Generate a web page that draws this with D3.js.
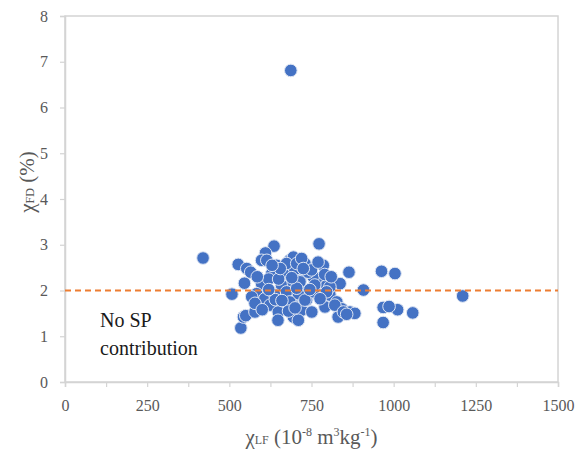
<!DOCTYPE html>
<html>
<head>
<meta charset="utf-8">
<script src="https://cdn.jsdelivr.net/npm/d3@7"></script>
<style>
  body { margin: 0; background: #fff; }
  #chart { width: 577px; height: 455px; }
  svg text { font-family: "Liberation Serif", "Times New Roman", Tinos, "DejaVu Serif", "Noto Serif", serif !important; }
</style>
</head>
<body>
<div id="chart"></div>
<script>
// Datos
const chiLF = [687, 420, 508, 527, 535, 543, 1210, 1058, 1012, 1004, 963, 968, 986, 968, 908, 864, 773,
  636, 610, 598, 553, 565, 614, 644, 684, 695, 664, 629, 598, 546, 659, 695, 583, 608, 639, 674, 705,
  583, 624, 664, 694, 550, 578, 649, 648, 695, 730, 786, 715, 766, 796, 837, 730, 766, 806, 735, 791,
  827, 842, 720, 751, 831, 867, 710, 695, 674, 705, 755, 715, 806, 674, 710, 755, 796, 684, 730, 776,
  821, 847, 882, 857, 568, 578, 620, 740, 650, 705, 760, 585, 720, 750, 680, 640, 600, 790,
  620, 655, 690, 725, 745, 700, 660, 630, 770, 810];
const chiFD = [6.81, 2.71, 1.92, 2.57, 1.18, 1.42, 1.88, 1.51, 1.58, 2.37, 2.42, 1.63, 1.65, 1.30, 2.01, 2.40, 3.02,
  2.97, 2.82, 2.66, 2.48, 2.40, 2.66, 2.55, 2.66, 2.40, 2.37, 2.37, 2.15, 2.16, 2.11, 2.15, 1.93, 1.82, 1.90, 1.90, 1.90,
  1.64, 1.68, 1.68, 1.68, 1.45, 1.53, 1.53, 1.35, 1.42, 2.59, 2.55, 2.22, 2.26, 2.11, 2.15, 2.00, 1.93, 1.90, 1.79, 1.64,
  1.75, 1.60, 1.57, 1.53, 1.42, 1.53, 1.35, 2.73, 2.59, 2.59, 2.30, 2.19, 2.08, 1.97, 1.93, 1.97, 1.97, 1.75, 1.79, 1.82,
  1.68, 1.53, 1.50, 1.48, 1.86, 1.72, 2.25, 2.40, 2.25, 2.05, 2.12, 2.30, 2.70, 2.45, 1.55, 1.80, 1.58, 2.35,
  2.02, 2.48, 2.28, 2.48, 2.02, 1.62, 1.78, 2.55, 2.62, 2.30];
const xTicks = [0, 250, 500, 750, 1000, 1250, 1500];
const xMinorTicks = [125, 375, 625, 875, 1125, 1375];
const yTicks = [0, 1, 2, 3, 4, 5, 6, 7, 8];
const spThreshold = 2;
const noteLines = ['No SP', 'contribution'];

const data = chiLF.map(function(d, i) { return { x: d, y: chiFD[i] }; });

const SERIF = '"Liberation Serif", "Times New Roman", Tinos, "DejaVu Serif", "Noto Serif", serif';

let margin = {top: 16, right: 19, bottom: 73, left: 65},
    width = 577 - margin.left - margin.right,
    height = 455 - margin.top - margin.bottom;

let svg = d3.select('#chart')
  .append('svg')
    .attr('width', 577)
    .attr('height', 455)
  .append('g')
    .attr('transform', 'translate(' + margin.left + ',' + margin.top + ')');

let x = d3.scaleLinear().domain([0, 1500]).range([0, width]);
let y = d3.scaleLinear().domain([0, 8]).range([height, 0]);

const AXIS_COLOR = '#d4d4d4', LABEL_COLOR = '#595959';

// Marco
svg.append('rect')
  .attr('x', 0).attr('y', 0)
  .attr('width', width).attr('height', height)
  .attr('fill', 'none')
  .attr('stroke', AXIS_COLOR)
  .attr('stroke-width', 1.5);

// Eje X
let xAxis = svg.append('g')
  .attr('transform', 'translate(0,' + height + ')')
  .attr('font-family', SERIF)
  .call(d3.axisBottom(x).tickValues(xTicks.concat(xMinorTicks)).tickSize(5).tickFormat(function(d) {
    return xTicks.indexOf(d) >= 0 ? d : '';
  }));
xAxis.attr('font-family', SERIF);
xAxis.select('.domain').attr('stroke', AXIS_COLOR).attr('stroke-width', 1.5);
xAxis.selectAll('.tick line').attr('stroke', AXIS_COLOR).attr('stroke-width', 1.2);
xAxis.selectAll('.tick text')
  .attr('fill', LABEL_COLOR).attr('font-size', 16).attr('dy', '1.3em');

// Eje Y
let yAxis = svg.append('g')
  .call(d3.axisLeft(y).tickValues(yTicks).tickSize(5));
yAxis.attr('font-family', SERIF);
yAxis.select('.domain').attr('stroke', AXIS_COLOR).attr('stroke-width', 1.5);
yAxis.selectAll('.tick line').attr('stroke', AXIS_COLOR).attr('stroke-width', 1.2);
yAxis.selectAll('.tick text')
  .attr('fill', LABEL_COLOR).attr('font-size', 16).attr('x', -17);

// Puntos
svg.selectAll('circle.pt')
  .data(data)
  .enter()
  .append('circle')
  .attr('class', 'pt')
  .attr('cx', function(d) { return x(d.x); })
  .attr('cy', function(d) { return y(d.y); })
  .attr('r', 6.3)
  .attr('fill', '#4472C4')
  .attr('stroke', '#dfe6f3')
  .attr('stroke-width', 1);

// Linea umbral SP
svg.append('line')
  .attr('x1', x(0)).attr('x2', x(1500))
  .attr('y1', y(spThreshold)).attr('y2', y(spThreshold))
  .attr('stroke', '#ED7D31')
  .attr('stroke-width', 2)
  .attr('stroke-dasharray', '6,4');

// Nota
svg.append('g').selectAll('text')
  .data(noteLines)
  .enter()
  .append('text')
  .attr('x', 35)
  .attr('y', function(d, i) { return 311 + i * 28; })
  .attr('font-size', 20)
  .attr('font-family', SERIF)
  .attr('fill', '#1a1a1a')
  .text(function(d) { return d; });

// Titulo eje X
let xt = svg.append('text')
  .attr('x', width / 2)
  .attr('y', height + 62)
  .attr('text-anchor', 'middle')
  .attr('font-size', 21)
  .attr('font-family', SERIF)
  .attr('fill', LABEL_COLOR);
xt.append('tspan').text('χ');
xt.append('tspan').attr('font-size', 12).text('LF');
xt.append('tspan').text(' (10');
xt.append('tspan').attr('font-size', 12).attr('dy', -8).text('-8');
xt.append('tspan').attr('dy', 8).text(' m');
xt.append('tspan').attr('font-size', 12).attr('dy', -8).text('3');
xt.append('tspan').attr('dy', 8).text('kg');
xt.append('tspan').attr('font-size', 12).attr('dy', -8).text('-1');
xt.append('tspan').attr('dy', 8).text(')');

// Titulo eje Y
let yt = svg.append('text')
  .attr('transform', 'translate(' + (-31) + ',' + (height / 2 - 17) + ') rotate(-90)')
  .attr('text-anchor', 'middle')
  .attr('font-size', 21)
  .attr('font-family', SERIF)
  .attr('fill', LABEL_COLOR);
yt.append('tspan').text('χ');
yt.append('tspan').attr('font-size', 12).text('FD');
yt.append('tspan').text(' (%)');
</script>
</body>
</html>
